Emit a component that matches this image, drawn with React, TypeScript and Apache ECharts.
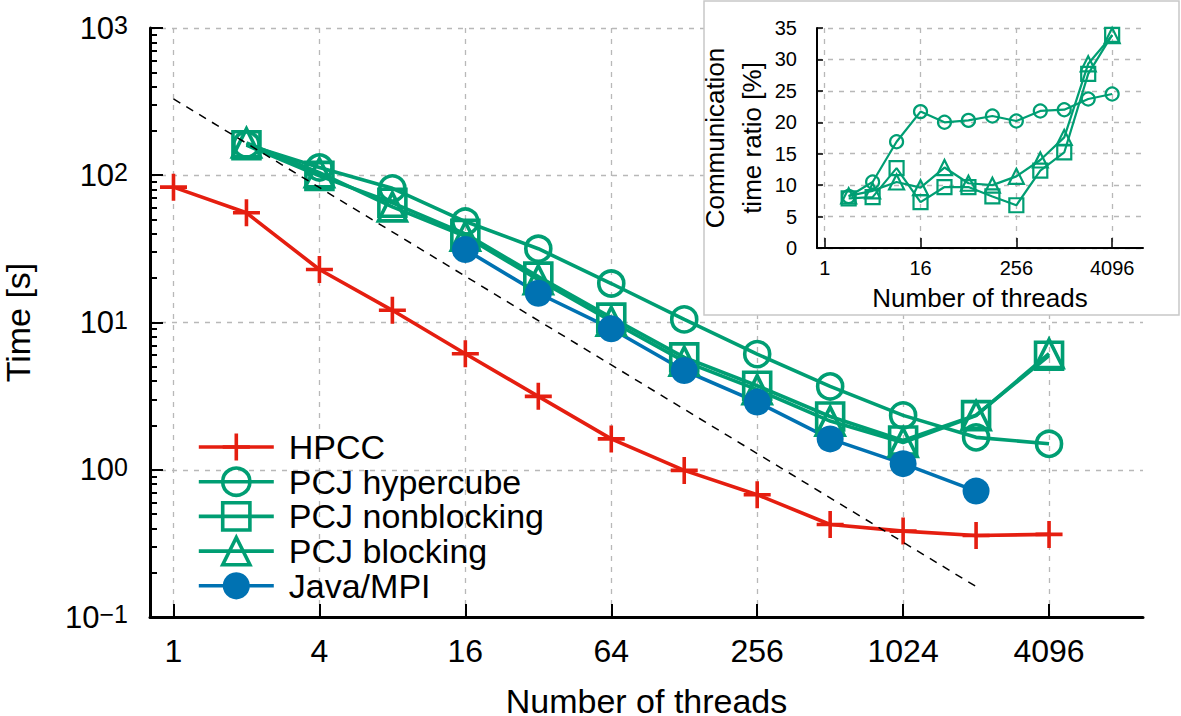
import React, { useEffect, useRef } from "react";
import * as echarts from "echarts";

// ---------- data ----------
const hpccThreads = [1, 2, 4, 8, 16, 32, 64, 128, 256, 512, 1024, 2048, 4096];
const hpccTime = [83, 55.6, 22.9, 12.1, 6.13, 3.15, 1.62, 0.99, 0.677, 0.425, 0.383, 0.358, 0.364];

const pcjThreads = [2, 4, 8, 16, 32, 64, 128, 256, 512, 1024, 2048, 4096];
const hypercubeTime = [162, 113, 81.5, 48.5, 31.7, 18.4, 10.5, 6.1, 3.68, 2.34, 1.66, 1.5];
const nonblockingTime = [160, 99, 65, 40, 20.5, 10.8, 5.8, 3.72, 2.3, 1.58, 2.35, 5.95];
const blockingTime = [166, 104, 61, 38.5, 19.5, 10.2, 5.45, 3.5, 2.14, 1.53, 2.33, 6.15];

const javaThreads = [16, 32, 64, 128, 256, 512, 1024, 2048];
const javaMpiTime = [31.3, 15.8, 9.07, 4.72, 2.88, 1.62, 1.1, 0.716];

const idealThreads = [1, 2048];
const idealTime = [330, 0.161];

// inset: communication time ratio [%]
const hypercubeRatio = [8.2, 10.5, 16.9, 21.7, 20.0, 20.3, 21.0, 20.2, 21.8, 22.0, 23.7, 24.5];
const nonblockingRatio = [7.9, 8.1, 12.7, 7.3, 9.7, 9.7, 8.2, 6.8, 12.3, 15.2, 27.7, 33.9];
const blockingRatio = [8.3, 9.1, 10.5, 9.6, 12.8, 10.3, 10.0, 11.4, 14.0, 17.6, 29.3, 33.8];

// ticks
const mainXTicks = [1, 4, 16, 64, 256, 1024, 4096];
const insetXTicks = [1, 16, 256, 4096];
const minorYTicks = [
  0.2, 0.3, 0.4, 0.5, 0.6, 0.7, 0.8, 0.9,
  2, 3, 4, 5, 6, 7, 8, 9,
  20, 30, 40, 50, 60, 70, 80, 90,
  200, 300, 400, 500, 600, 700, 800, 900,
];

// ---------- styles ----------
const FONT = "'Liberation Sans', Arial, Helvetica, sans-serif";
const RED = "#e51e10";
const GREEN = "#009e73";
const BLUE = "#0072b2";
const LW = 3.6;
const GRIDLINE = { show: true, lineStyle: { color: "#b8b8b8", width: 1.3, type: [5, 6] as any } };
const PLUS = "path://M0,10L20,10M10,0L10,20";

const zip = (xs: number[], ys: number[]) => xs.map((x, i) => [x, ys[i]]);

function supLabel(v: number) {
  const e = Math.round(Math.log10(v));
  const s = e < 0 ? "\u2212" + -e : String(e);
  return "{b|10}{s|" + s + "}";
}

function buildOption() {
  const mainLine = (name: string, xs: number[], ys: number[], symbol: string, size: number, color: string, filled: boolean) => ({
    name,
    type: "line",
    xAxisIndex: 0,
    yAxisIndex: 0,
    data: zip(xs, ys),
    symbol,
    symbolSize: size,
    showAllSymbol: true,
    silent: true,
    z: 3,
    lineStyle: { color, width: LW },
    itemStyle: filled
      ? { color, borderWidth: 0 }
      : { color: "rgba(0,0,0,0)", borderColor: color, borderWidth: LW },
    emphasis: { disabled: true },
  });
  const insetLine = (name: string, ys: number[], symbol: string, size: number) => ({
    name,
    type: "line",
    xAxisIndex: 1,
    yAxisIndex: 2,
    data: zip(pcjThreads, ys),
    symbol,
    symbolSize: size,
    showAllSymbol: true,
    silent: true,
    z: 70,
    lineStyle: { color: GREEN, width: 2.2 },
    itemStyle: { color: "rgba(0,0,0,0)", borderColor: GREEN, borderWidth: 2.2 },
    emphasis: { disabled: true },
  });
  const legendItem = (name: string, color: string, filled: boolean) => ({
    name,
    lineStyle: { color, width: LW },
    itemStyle: filled
      ? { color, borderWidth: 0 }
      : { color: "rgba(0,0,0,0)", borderColor: color, borderWidth: LW },
  });

  return {
    animation: false,
    backgroundColor: "#fff",
    textStyle: { fontFamily: FONT, color: "#000" },
    grid: [
      { left: 150, top: 28, width: 993, height: 589, outerBoundsMode: "none", containLabel: false },
      { left: 817, top: 28, width: 326, height: 220, outerBoundsMode: "none", containLabel: false, z: 60 },
    ],
    graphic: [
      {
        type: "rect",
        z: 50,
        zlevel: 0,
        silent: true,
        shape: { x: 704, y: 1, width: 475, height: 314 },
        style: { fill: "#fff", stroke: "#c8c8c8", lineWidth: 1.5 },
      },
    ],
    legend: {
      show: true,
      orient: "vertical",
      left: 192,
      top: 425,
      itemWidth: 75,
      itemHeight: 34,
      itemGap: 0.7,
      selectedMode: false,
      lineStyle: { width: LW },
      data: [
        legendItem("HPCC", RED, false),
        legendItem("PCJ hypercube", GREEN, false),
        legendItem("PCJ nonblocking", GREEN, false),
        legendItem("PCJ blocking", GREEN, false),
        legendItem("Java/MPI", BLUE, true),
      ],
      textStyle: { fontSize: 34, lineHeight: 34, color: "#000", fontFamily: FONT, padding: [0, 0, 0, 10] },
    },
    xAxis: [
      {
        type: "log",
        logBase: 2,
        gridIndex: 0,
        min: 0.8,
        max: 10000,
        position: "bottom",
        name: "Number of threads",
        nameLocation: "middle",
        nameGap: 70,
        nameTextStyle: { fontSize: 34, lineHeight: 28, color: "#000", fontFamily: FONT },
        axisLine: { show: true, onZero: false, lineStyle: { color: "#000", width: 3 } },
        axisTick: { show: true, inside: true, length: 13, lineStyle: { color: "#000", width: 2 }, customValues: mainXTicks },
        axisLabel: { show: true, customValues: mainXTicks, fontSize: 32, color: "#000", margin: 18, fontFamily: FONT, formatter: (v: number) => String(v) },
        splitLine: GRIDLINE,
        minorTick: { show: false },
        minorSplitLine: { show: false },
      },
      {
        type: "log",
        logBase: 2,
        gridIndex: 1,
        min: 0.8,
        max: 10000,
        z: 60,
        position: "bottom",
        name: "Number of threads",
        nameLocation: "middle",
        nameGap: 37,
        nameTextStyle: { fontSize: 26, color: "#000", fontFamily: FONT },
        axisLine: { show: true, onZero: false, lineStyle: { color: "#000", width: 2 } },
        axisTick: { show: true, inside: true, length: 10, lineStyle: { color: "#000", width: 1.5 }, customValues: insetXTicks },
        axisLabel: { show: true, customValues: insetXTicks, fontSize: 20, color: "#000", margin: 10, fontFamily: FONT, formatter: (v: number) => String(v) },
        splitLine: GRIDLINE,
      },
    ],
    yAxis: [
      {
        type: "log",
        logBase: 10,
        gridIndex: 0,
        min: 0.1,
        max: 1000,
        position: "left",
        name: "Time [s]",
        nameLocation: "middle",
        nameGap: 118,
        nameTextStyle: { fontSize: 34, lineHeight: 28, color: "#000", fontFamily: FONT },
        axisLine: { show: true, onZero: false, lineStyle: { color: "#000", width: 3 } },
        axisTick: { show: true, inside: true, length: 13, lineStyle: { color: "#000", width: 2 } },
        axisLabel: {
          show: true,
          margin: 22,
          formatter: supLabel,
          rich: {
            b: { fontSize: 31, lineHeight: 31, verticalAlign: "bottom", color: "#000", fontFamily: FONT },
            s: { fontSize: 25, lineHeight: 25, verticalAlign: "top", padding: [0, 0, 11, 0], color: "#000", fontFamily: FONT },
          },
        },
        splitLine: GRIDLINE,
      },
      {
        type: "log",
        logBase: 10,
        gridIndex: 0,
        min: 0.1,
        max: 1000,
        position: "left",
        offset: 0,
        axisLine: { show: false },
        axisLabel: { show: false },
        splitLine: { show: false },
        axisTick: { show: true, inside: true, length: 7, lineStyle: { color: "#000", width: 2 }, customValues: minorYTicks },
      },
      {
        type: "value",
        gridIndex: 1,
        min: 0,
        max: 35,
        interval: 5,
        z: 60,
        position: "left",
        name: "Communication\ntime ratio [%]",
        nameLocation: "middle",
        nameGap: 34,
        nameTextStyle: { fontSize: 26, lineHeight: 37, color: "#000", fontFamily: FONT, align: "center" },
        axisLine: { show: true, onZero: false, lineStyle: { color: "#000", width: 2 } },
        axisTick: { show: true, inside: true, length: 6, lineStyle: { color: "#000", width: 1.5 } },
        axisLabel: { show: true, fontSize: 20, color: "#000", margin: 20, fontFamily: FONT },
        splitLine: GRIDLINE,
      },
    ],
    series: [
      mainLine("HPCC", hpccThreads, hpccTime, PLUS, 27, RED, false),
      mainLine("PCJ hypercube", pcjThreads, hypercubeTime, "circle", 25, GREEN, false),
      mainLine("PCJ nonblocking", pcjThreads, nonblockingTime, "rect", 27, GREEN, false),
      mainLine("PCJ blocking", pcjThreads, blockingTime, "triangle", 28, GREEN, false),
      mainLine("Java/MPI", javaThreads, javaMpiTime, "circle", 27, BLUE, true),
      {
        name: "ideal",
        type: "line",
        xAxisIndex: 0,
        yAxisIndex: 0,
        data: zip(idealThreads, idealTime),
        symbol: "none",
        silent: true,
        z: 4,
        lineStyle: { color: "#000", width: 1.5, type: [8, 7] },
        emphasis: { disabled: true },
      },
      insetLine("hypercube ratio", hypercubeRatio, "circle", 13),
      insetLine("nonblocking ratio", nonblockingRatio, "rect", 14),
      insetLine("blocking ratio", blockingRatio, "triangle", 15),
    ],
  };
}

export default function App() {
  const ref = useRef<HTMLDivElement>(null);
  useEffect(() => {
    document.body.style.margin = "0";
    const chart = echarts.init(ref.current!, null, { renderer: "svg" });
    chart.setOption(buildOption() as any);
    return () => chart.dispose();
  }, []);
  return <div ref={ref} style={{ width: 1181, height: 716 }} />;
}
